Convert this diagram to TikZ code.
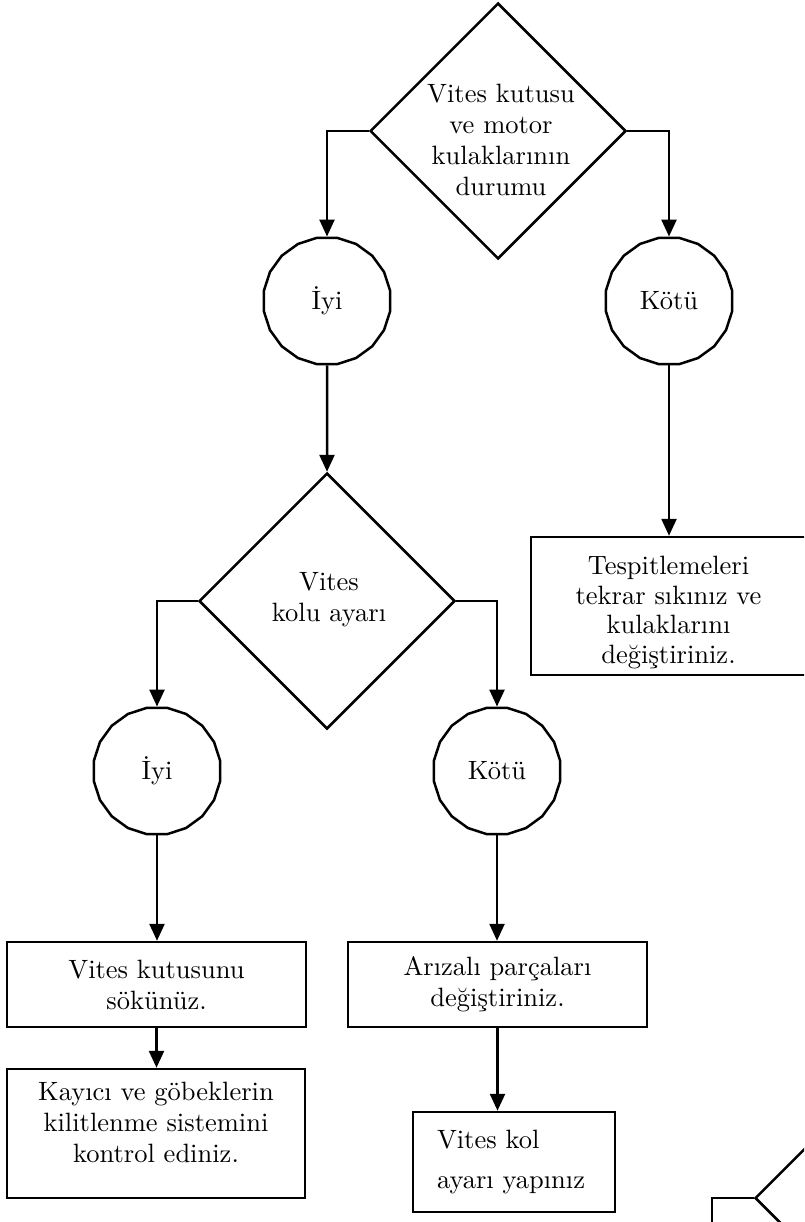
\documentclass[tikz,border=0pt]{standalone}
\usepackage{fontspec}
\setmainfont{lmroman10-regular.otf}[BoldFont=lmroman10-bold.otf,ItalicFont=lmroman10-italic.otf]
\usetikzlibrary{shapes.geometric,arrows.meta}
\begin{document}
\begin{tikzpicture}[x=1pt,y=-1pt,
  line width=2.5pt,
  every node/.style={font=\fontsize{26.5}{31}\selectfont},
  dec/.style={draw,diamond,minimum width=256pt,minimum height=256pt,inner sep=0pt},
  res/.style={draw,regular polygon,regular polygon sides=20,minimum size=128pt,inner sep=0pt},
  act/.style={draw,rectangle,inner sep=0pt,align=center},
  arr/.style={-{Triangle[width=15pt,length=17pt]}},
]
\clip (0,0) rectangle (804,1222);
% decisions
\node[dec] (d1) at (498,131) {};
\node[align=center] (d1t) at (501,140) {Vites kutusu\\ve motor\\kulaklarının\\durumu};
\node[dec] (d2) at (327,601) {};
\node[align=center] (d2t) at (329,600) {Vites\\kolu ayarı};
\node[dec] (d3) at (883,1198) {};
% results
\node[res] (c1) at (327,301) {İyi};
\node[res] (c2) at (669,301) {Kötü};
\node[res] (c3) at (157,771) {İyi};
\node[res] (c4) at (497,771) {Kötü};
% actions
\node[act,minimum width=275pt,minimum height=138pt,font=\fontsize{26.5}{29.5}\selectfont] (b1) at (668.5,606) {\rule{0pt}{31pt}Tespitlemeleri\\tekrar sıkınız ve\\kulaklarını\\değiştiriniz.};
\node[act,minimum width=299pt,minimum height=85pt] (b2) at (156.5,984.5) {Vites kutusunu\\sökünüz.};
\node[act,minimum width=298pt,minimum height=129pt] (b3) at (156,1133.5) {Kayıcı ve göbeklerin\\kilitlenme sistemini\\kontrol ediniz.\rule[-22pt]{0pt}{22pt}};
\node[act,minimum width=299pt,minimum height=85pt] (b4) at (497.5,984.5) {Arızalı parçaları\\değiştiriniz.};
\node[draw,rectangle,inner ysep=0pt,inner xsep=24pt,text width=154pt,align=left,minimum height=100pt,font=\fontsize{26.5}{40}\selectfont] (b5) at (514,1162) {Vites kol\\ayarı yapınız};
\coordinate (e) at (712,1240);
% connectors
\draw[arr] (d1.west) -| (c1.north);
\draw[arr] (d1.east) -| (c2.north);
\draw[arr] (c1.south) -- (d2.north);
\draw[arr] (c2.south) -- (c2.south |- b1.north);
\draw[arr] (d2.west) -| (c3.north);
\draw[arr] (d2.east) -| (c4.north);
\draw[arr] (c3.south) -- (c3.south |- b2.north);
\draw[arr] (c4.south) -- (c4.south |- b4.north);
\draw[arr] (b2.south) -- (b2.south |- b3.north);
\draw[arr] (b4.south) -- (b4.south |- b5.north);
\draw (d3.west) -| (e);
\end{tikzpicture}
\end{document}
